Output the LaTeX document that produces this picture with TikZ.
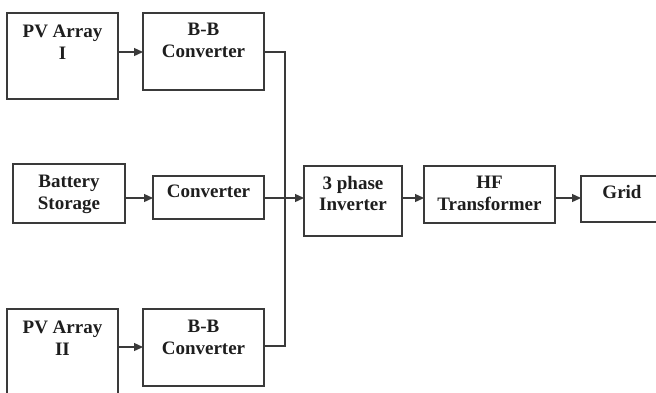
\documentclass[tikz,border=0pt]{standalone}
\usepackage{fontspec}
\setmainfont{Liberation Serif}
\usetikzlibrary{arrows.meta}
\definecolor{edge}{HTML}{3A3A3A}
\definecolor{ink}{HTML}{1E1E1E}
\begin{document}
\begin{tikzpicture}[x=1pt,y=-1pt,
  blk/.style={draw=edge,line width=1.3pt,rectangle,inner sep=0pt},
  lbl/.style={anchor=north,align=center,inner sep=0pt,text=ink,
    font=\fontsize{19}{21.5}\selectfont\bfseries},
  flow/.style={draw=edge,line width=1.3pt,-{Triangle[length=9pt,width=8pt]}},
  wire/.style={draw=edge,line width=1.3pt}]
\useasboundingbox (0,0) rectangle (656,392);

% blocks, given by their corners
\newcommand\blkat[5]{\path[blk] (#2,#3) rectangle (#4,#5) node[pos=0.5,inner sep=0pt,minimum size=0pt] (#1) {};
  \coordinate (#1-n) at ({(#2+#4)/2},#3);
  \coordinate (#1-w) at (#2,0); \coordinate (#1-e) at (#4,0);}
\blkat{pv1}{7}{13}{118}{99}
\blkat{bb1}{143}{13}{264}{90}
\blkat{bat}{13}{164}{125}{223}
\blkat{conv}{153}{176}{264}{219}
\blkat{inv}{304}{166}{402}{236}
\blkat{hf}{424}{166}{555}{223}
\blkat{grid}{581}{176}{663}{222}
\blkat{pv2}{7}{309}{118}{400}
\blkat{bb2}{143}{309}{264}{386}

% labels
\node[lbl] (t-pv1) at ([yshift=-12]pv1-n) {PV Array\\I};
\node[lbl] (t-bb1) at ([yshift=-10]bb1-n) {B-B\\Converter};
\node[lbl] (t-bat) at ([yshift=-11]bat-n) {Battery\\Storage};
\node[lbl] (t-conv) at ([yshift=-9]conv-n) {Converter};
\node[lbl] (t-inv) at ([yshift=-10]inv-n) {3 phase\\Inverter};
\node[lbl] (t-hf) at ([yshift=-10]hf-n) {HF\\Transformer};
\node[lbl] (t-grid) at ([yshift=-9]grid-n) {Grid};
\node[lbl] (t-pv2) at ([yshift=-12]pv2-n) {PV Array\\II};
\node[lbl] (t-bb2) at ([yshift=-11]bb2-n) {B-B\\Converter};

% connection points
\coordinate (bus-top) at (285,52);
\coordinate (bus-mid) at (285,198);
\coordinate (bus-bot) at (285,346);

% connectors
\draw[flow] (pv1-e |- 0,52) -- (bb1-w |- 0,52);
\draw[flow] (bat-e |- 0,198) -- (conv-w |- 0,198);
\draw[flow] (pv2-e |- 0,347) -- (bb2-w |- 0,347);
\draw[wire] (bb1-e |- bus-top) -- (bus-top) -- (bus-bot) -- (bb2-e |- bus-bot);
\draw[flow] (conv-e |- bus-mid) -- (inv-w |- bus-mid);
\draw[flow] (inv-e |- 0,198) -- (hf-w |- 0,198);
\draw[flow] (hf-e |- 0,198) -- (grid-w |- 0,198);
\end{tikzpicture}
\end{document}
